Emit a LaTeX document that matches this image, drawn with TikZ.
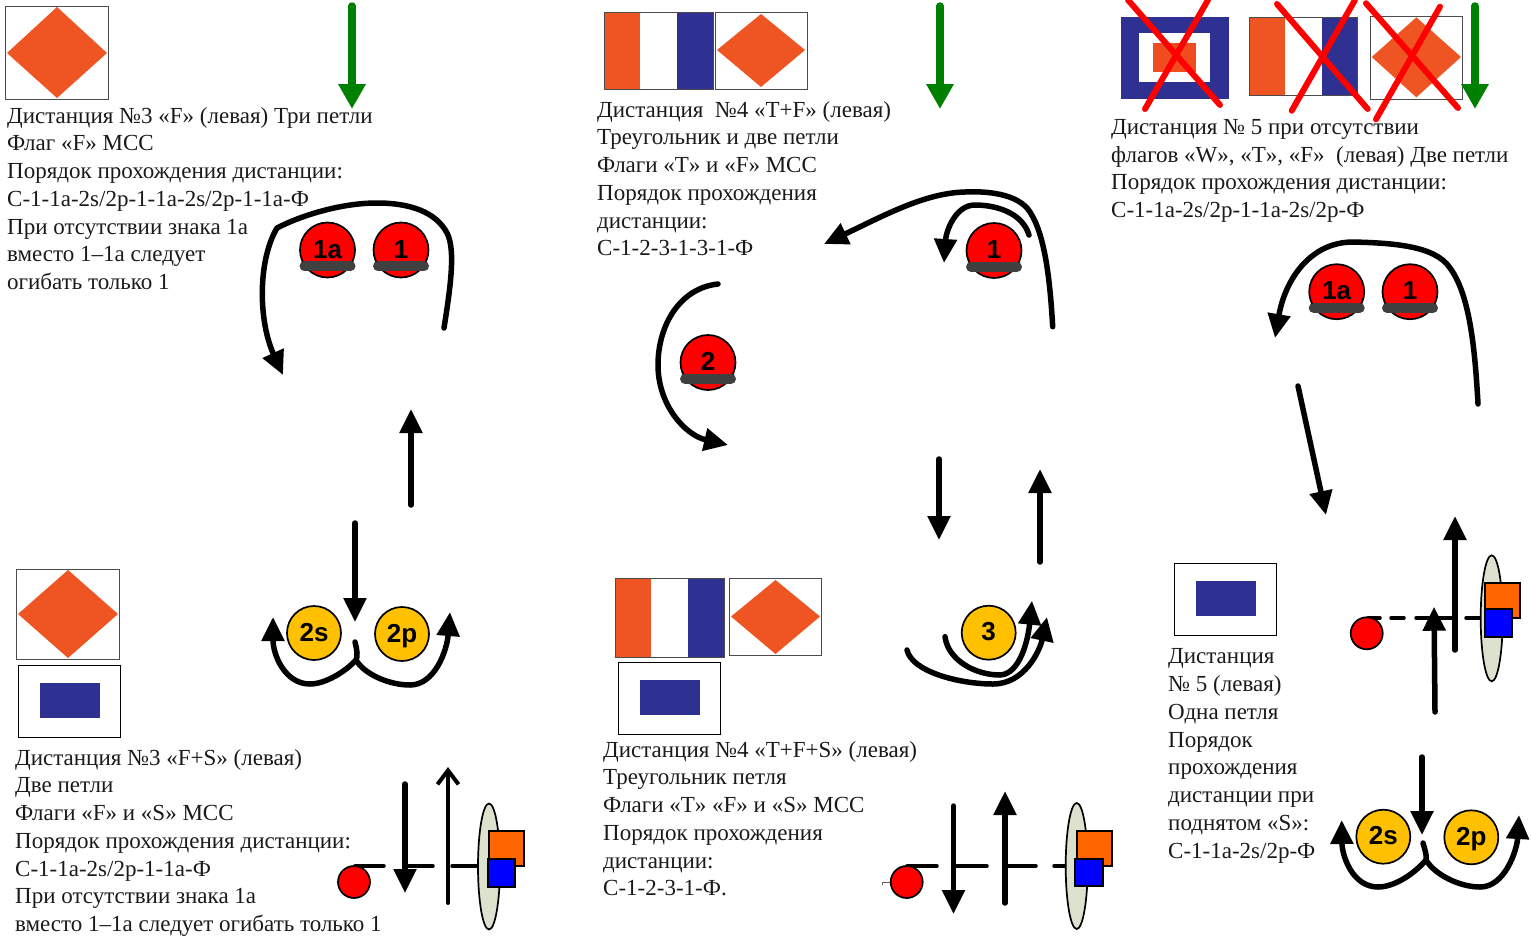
\documentclass[tikz,border=0pt]{standalone}
\usepackage{fontspec}
\setmainfont{Liberation Serif}
\setsansfont{Liberation Sans}
\usetikzlibrary{arrows.meta,shapes.geometric}
\definecolor{flagorange}{HTML}{EE5522}
\definecolor{flagblue}{HTML}{2E3192}
\definecolor{buoyyellow}{HTML}{FFC000}
\definecolor{bardark}{HTML}{404040}
\definecolor{ovalgrey}{HTML}{DDE2CF}
\definecolor{signorange}{HTML}{FF6600}
\definecolor{greenarrow}{HTML}{008000}
\definecolor{textdark}{HTML}{1A1A1A}
\tikzset{
  txt/.style={anchor=north west,inner sep=0pt,align=left,text=textdark,font=\fontsize{23}{27.75}\selectfont},
  bl/.style={line width=5.5pt,line cap=round,line join=round},
  arr/.style={bl,-{Triangle[length=24pt,width=22pt]}},
  greenarr/.style={line width=7.5pt,line cap=round,greenarrow,-{Triangle[length=25pt,width=26pt]}},
  thin line/.style={line width=3.5pt,line cap=round},
  redbuoy/.style={circle,draw=black,line width=1.7pt,fill=red,minimum size=55pt,inner sep=0pt,text height=18pt,text depth=2pt,font=\fontsize{26}{26}\selectfont\sffamily\bfseries},
  yelbuoy/.style={circle,draw=black,line width=1.7pt,fill=buoyyellow,minimum size=54pt,inner sep=0pt,text height=18pt,text depth=2pt,font=\fontsize{26}{26}\selectfont\sffamily\bfseries},
  markbuoy/.style={circle,draw=black,line width=1.7pt,fill=red,minimum size=32pt,inner sep=0pt},
  oval/.style={ellipse,draw=black,line width=1.7pt,fill=ovalgrey,minimum width=22pt,minimum height=126pt,inner sep=0pt},
  xline/.style={red,line width=6pt,line cap=round},
  barline/.style={bardark,line width=10pt,line cap=round},
  flagframe/.style={draw=black!70,line width=0.8pt,fill=white},
  sframe/.style={draw=black,line width=1pt,fill=white},
  signo/.style={draw=black,line width=1.7pt,fill=signorange},
  signb/.style={draw=black,line width=1.7pt,fill=blue},
}
\newcommand{\flagF}[9]{% frame x1 y1 x2 y2, diamond left-x mid-y top-y right-x bottom-y
  \path[flagframe] (#1,#2) rectangle (#3,#4);
  \fill[flagorange] (#5,#6) -- ({(#5+#8)/2},#7) -- (#8,#6) -- ({(#5+#8)/2},#9) -- cycle;}
\newcommand{\flagT}[4]{% x1 y1 x2 y2
  \fill[white] (#1,#2) rectangle (#3,#4);
  \fill[flagorange] (#1,#2) rectangle ({#1+(#3-#1)*0.33},#4);
  \fill[flagblue] ({#1+(#3-#1)*0.67},#2) rectangle (#3,#4);
  \draw[black!70,line width=0.7pt] (#1,#2) rectangle (#3,#4);}
\newcommand{\flagS}[2]{% x y of top-left
  \path[sframe] (#1,#2) rectangle ({#1+102},{#2+72});
  \fill[flagblue] ({#1+22},{#2+17.5}) rectangle ({#1+82},{#2+52.5});}
\newcommand{\buoybar}[1]{\draw[barline] ([xshift=-23pt,yshift=-16.3pt]#1.center) -- ([xshift=23pt,yshift=-16.3pt]#1.center);}
\begin{document}
\begin{tikzpicture}[x=1pt,y=-1pt]
\useasboundingbox (0,0) rectangle (1531,935);
% ---- flags
\flagF{5.5}{6.5}{108.5}{99}{7}{53}{7}{107}{98}
\flagF{16.5}{569}{119.5}{659}{18}{614}{570}{118}{658}
\flagS{18}{665.5}
\flagT{604}{12}{713}{89}
\flagF{715}{12.5}{807}{89}{717}{50}{14}{805}{87}
\flagT{615}{578}{724}{657}
\flagF{729}{578}{821}{655}{731}{616.5}{580}{820}{654}
\flagS{618}{662}
\flagS{1174}{563}
% top-right crossed flags
\fill[flagblue] (1121,17.3) rectangle (1228.7,98.7);
\fill[white] (1139.3,32.7) rectangle (1210,82.3);
\fill[flagorange!90!red] (1153.3,42.7) rectangle (1196,72);
\flagT{1249}{17.3}{1357.7}{95.3}
\flagF{1370}{16}{1462.7}{99.3}{1371.7}{57}{17.3}{1461}{97.3}
\draw[xline] (1128,0) -- (1220,105);
\draw[xline] (1208,0) -- (1145,109);
\draw[xline] (1277,4) -- (1367.7,109);
\draw[xline] (1355,0) -- (1291.7,110.7);
\draw[xline] (1366,3.3) -- (1458,108);
\draw[xline] (1440,6.7) -- (1376,119.3);
% ---- green arrows
\draw[greenarr] (352,6) -- (352,109);
\draw[greenarr] (940,6) -- (940,109);
\draw[greenarr] (1475,6) -- (1475,109);
% ---- texts
\node[txt] (ta) at (7,107) {Дистанция №3 «F» (левая) Три петли\\Флаг «F» МСС\\Порядок прохождения дистанции:\\С-1-1а-2s/2р-1-1а-2s/2р-1-1а-Ф\\При отсутствии знака 1а\\вместо 1--1а следует\\огибать только 1};
\node[txt] (tb) at (597,101) {Дистанция\ \ №4 «T+F» (левая)\\Треугольник и две петли\\Флаги «T» и «F» МСС\\Порядок прохождения\\дистанции:\\С-1-2-3-1-3-1-Ф};
\node[txt] (tc) at (1111,119) {Дистанция № 5 при отсутствии\\флагов «W», «T», «F»\ \ (левая) Две петли\\Порядок прохождения дистанции:\\С-1-1а-2s/2р-1-1а-2s/2р-Ф};
\node[txt] (td) at (15,749) {Дистанция №3 «F+S» (левая)\\Две петли\\Флаги «F» и «S» МСС\\Порядок прохождения дистанции:\\С-1-1а-2s/2р-1-1а-Ф\\При отсутствии знака 1а\\вместо 1--1а следует огибать только 1};
\node[txt] (te) at (603,741) {Дистанция №4 «T+F+S» (левая)\\Треугольник петля\\Флаги «T» «F» и «S» МСС\\Порядок прохождения\\дистанции:\\С-1-2-3-1-Ф.};
\node[txt] (tf) at (1168,648.5) {Дистанция\\№ 5 (левая)\\Одна петля\\Порядок\\прохождения\\дистанции при\\поднятом «S»:\\С-1-1а-2s/2р-Ф};
% ---- panel A
\node[redbuoy] (a1a) at (327.5,250) {1a};
\node[redbuoy] (a1) at (401,250) {1};
\buoybar{a1a}\buoybar{a1}
\draw[arr] (444,328) .. controls (450,290) and (456,250) .. (447,233) .. controls (436,212) and (410,203) .. (377,203) .. controls (340,203) and (300,216) .. (277,228) .. controls (258,260) and (258,320) .. (283,375);
\draw[arr] (411,505) -- (411,409);
\draw[arr] (355,523) -- (355,622);
\node[yelbuoy] (a2s) at (314,633) {2s};
\node[yelbuoy] (a2p) at (402,634) {2p};
\draw[arr] (355,642) .. controls (357,650) and (358,656) .. (356,660) .. controls (345,672) and (325,684) .. (310,684) .. controls (285,684) and (273,655) .. (273,617);
\draw[arr] (356,660) .. controls (365,675) and (390,685) .. (410,685) .. controls (435,685) and (447,650) .. (450,612);
% ---- panel D gate
\draw[thin line] (355,866) -- (384,866);
\draw[thin line] (405,866) -- (433,866);
\draw[thin line] (452,866) -- (480,866);
\node[markbuoy] (dm) at (354,882) {};
\draw[arr] (405,784) -- (405,893);
\draw[line width=4pt,line cap=round,line join=round,-{Straight Barb[length=14pt,width=21pt,line width=4pt]}] (448,903) -- (448,767);
\node[oval] (dov) at (489,866.5) {};
\path[signo] (488.7,830.7) rectangle (524,866);
\path[signb] (487.7,859.3) rectangle (515,886.7);
% ---- panel B
\node[redbuoy] (b1) at (994,250.5) {1};
\buoybar{b1}
\node[redbuoy] (b2) at (708,362.5) {2};
\buoybar{b2}
\draw[arr] (1052.7,326.7) .. controls (1050,280) and (1045,235) .. (1030,212) .. controls (1018,193) and (985,191) .. (965,192) .. controls (925,193) and (885,215) .. (824,244);
\draw[arr] (1029,235) .. controls (1022,212) and (995,205) .. (975,205) .. controls (955,205) and (946,232) .. (944,263);
\draw[arr] (718,284) .. controls (680,288) and (658,325) .. (658,365) .. controls (658,405) and (685,435) .. (728,445);
\draw[arr] (939,459) -- (939,540);
\draw[arr] (1040,562) -- (1040,469);
% ---- panel E
\node[yelbuoy] (e3) at (988.7,632.7) {3};
\draw[arr] (945,636.7) .. controls (948,660) and (975,675) .. (1000,675) .. controls (1020,674) and (1028,640) .. (1032,600.7);
\draw[arr] (907,650) .. controls (912,672) and (960,684) .. (993,684) .. controls (1025,684) and (1040,650) .. (1047,617);
\draw[thin line] (907,866) -- (937,866);
\draw[thin line] (955,866) -- (987,866);
\draw[thin line] (1005,866) -- (1036,866);
\draw[thin line] (1054,866) -- (1067,866);
\draw[black!60,line width=0.8pt] (882,885) -- (882,882) -- (892,882);
\node[markbuoy] (em) at (906.7,882) {};
\draw[arr] (953.5,806) -- (953.5,914);
\draw[arr] (1005,903) -- (1005,791);
\node[oval] (eov) at (1076.7,866) {};
\path[signo] (1076.7,831) rectangle (1111.7,866);
\path[signb] (1075.3,858.7) rectangle (1102.7,885.7);
% ---- panel C
\node[redbuoy] (c1a) at (1336.7,291.7) {1a};
\node[redbuoy] (c1) at (1410,291.7) {1};
\buoybar{c1a}\buoybar{c1}
\draw[arr] (1478,404) .. controls (1475,350) and (1470,295) .. (1450,268) .. controls (1435,245) and (1390,243) .. (1353,242) .. controls (1310,242) and (1285,280) .. (1275,338);
\draw[arr] (1298,386) -- (1326,515);
% ---- panel F
\draw[thin line] (1368,618) -- (1380,618);
\draw[thin line] (1391,618) -- (1404,618);
\draw[thin line] (1416,618) -- (1453,618);
\draw[thin line] (1466,618) -- (1480,618);
\node[markbuoy] (fm) at (1366.7,633.3) {};
\draw[arr] (1455,650) -- (1455,516);
\draw[arr] (1435,712) -- (1434,606.7);
\node[oval] (fov) at (1491.7,618.3) {};
\path[signo] (1485,583.3) rectangle (1520,618.3);
\path[signb] (1485,609.3) rectangle (1511.7,636.7);
\draw[arr] (1422,757) -- (1422,835);
\node[yelbuoy] (f2s) at (1383.3,836.7) {2s};
\node[yelbuoy] (f2p) at (1471.3,837.3) {2p};
\draw[arr] (1423,843) .. controls (1425,850) and (1427,856) .. (1426,860) .. controls (1415,873) and (1395,887) .. (1378,887) .. controls (1352,887) and (1342,855) .. (1341.7,820);
\draw[arr] (1426,860) .. controls (1435,875) and (1460,887) .. (1480,887) .. controls (1505,887) and (1517,850) .. (1519,815);
\end{tikzpicture}
\end{document}
